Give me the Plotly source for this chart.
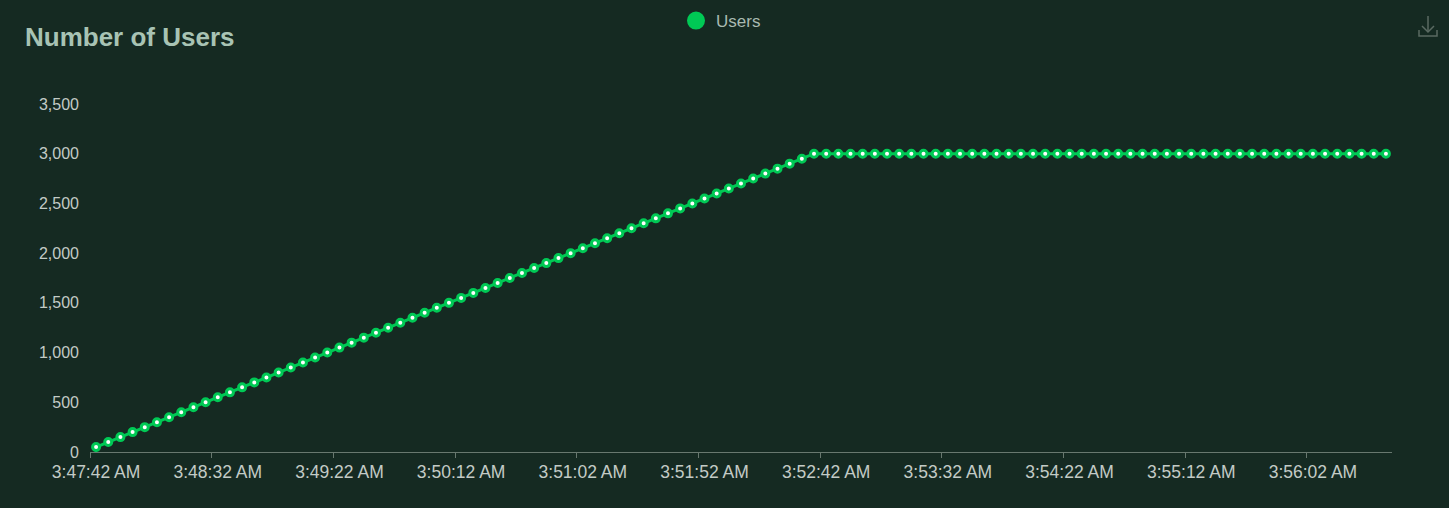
import datetime as dt
import plotly.graph_objects as go

# ---- data ----
start_time = dt.datetime(2024, 1, 1, 3, 47, 42)
step_seconds = 5
users = [
    50, 100, 150, 200, 250, 300, 350, 400, 450, 500,
    550, 600, 650, 700, 750, 800, 850, 900, 950, 1000,
    1050, 1100, 1150, 1200, 1250, 1300, 1350, 1400, 1450, 1500,
    1550, 1600, 1650, 1700, 1750, 1800, 1850, 1900, 1950, 2000,
    2050, 2100, 2150, 2200, 2250, 2300, 2350, 2400, 2450, 2500,
    2550, 2600, 2650, 2700, 2750, 2800, 2850, 2900, 2950, 3000,
    3000, 3000, 3000, 3000, 3000, 3000, 3000, 3000, 3000, 3000,
    3000, 3000, 3000, 3000, 3000, 3000, 3000, 3000, 3000, 3000,
    3000, 3000, 3000, 3000, 3000, 3000, 3000, 3000, 3000, 3000,
    3000, 3000, 3000, 3000, 3000, 3000, 3000, 3000, 3000, 3000,
    3000, 3000, 3000, 3000, 3000, 3000, 3000,
]


def fmt(t):
    h = t.hour % 12 or 12
    ampm = "AM" if t.hour < 12 else "PM"
    return f"{h}:{t.minute:02d}:{t.second:02d} {ampm}"


times = [fmt(start_time + dt.timedelta(seconds=step_seconds * i)) for i in range(len(users))]
y_ticks = [0, 500, 1000, 1500, 2000, 2500, 3000, 3500]
series_name = "Users"
title_text = "Number of Users"

# ---- style ----
BG = "#152a22"
GREEN = "#00c955"
AXIS = "#68786f"
LABEL = "#c3cbc6"
FONT = "Liberation Sans, Arial, Helvetica, sans-serif"

W, H = 1449, 508
ML, MR, MT, MB = 90, W - 1392, 104, H - 452

fig = go.Figure()
fig.add_trace(go.Scatter(
    x=times, y=users, mode="lines+markers", name=series_name, showlegend=False,
    line=dict(color=GREEN, width=3),
    marker=dict(symbol="circle", size=7, color="white", line=dict(color=GREEN, width=3)),
))
# legend entry
fig.add_trace(go.Scatter(
    x=[None], y=[None], mode="markers", name=series_name,
    marker=dict(symbol="circle", size=16, color=GREEN, line=dict(color=GREEN, width=2)),
))

pw = W - ML - MR
ph = H - MT - MB


def xp(px):
    return (px - ML) / pw


def yp(py):
    return (H - MB - py) / ph


icon = dict(color="#5a6a62", width=1.5)
shapes = [
    dict(type="line", xref="paper", yref="paper", x0=xp(1428), x1=xp(1428), y0=yp(16), y1=yp(32), line=icon),
    dict(type="path", xref="paper", yref="paper",
         path=f"M {xp(1422)} {yp(26)} L {xp(1428)} {yp(32)} L {xp(1434)} {yp(26)}", line=icon),
    dict(type="path", xref="paper", yref="paper",
         path=f"M {xp(1419)} {yp(30)} L {xp(1419)} {yp(36)} L {xp(1437)} {yp(36)} L {xp(1437)} {yp(30)}", line=icon),
]

fig.update_layout(
    width=W, height=H,
    margin=dict(l=ML, r=MR, t=MT, b=MB, autoexpand=False),
    paper_bgcolor=BG, plot_bgcolor=BG,
    font=dict(family=FONT, color=LABEL, size=16),
    title=dict(text=f"<b>{title_text}</b>", x=25 / W, xref="container", xanchor="left",
               y=1 - 37 / H, yref="container", yanchor="middle",
               font=dict(size=26, color="#a8c3b4", family=FONT)),
    showlegend=True,
    legend=dict(orientation="h", x=xp(676), xanchor="left", y=yp(3), yanchor="top",
                font=dict(size=17, color="#a9bab1"), bgcolor="rgba(0,0,0,0)",
                itemsizing="trace"),
    shapes=shapes,
    xaxis=dict(
        type="category", range=[-0.5, len(users) - 0.5],
        tickmode="linear", tick0=0, dtick=10, tickson="boundaries",
        tickangle=0, automargin=False,
        showgrid=False, zeroline=False,
        showline=True, linecolor=AXIS, linewidth=1,
        ticks="outside", ticklen=5, tickcolor=AXIS, tickwidth=1,
        ticklabelstandoff=4,
        tickfont=dict(size=17.5, color=LABEL),
    ),
    yaxis=dict(
        range=[0, 3500], tickmode="array", tickvals=y_ticks, tickformat=",",
        showgrid=False, zeroline=False, showline=False, ticks="",
        ticklabelstandoff=10, automargin=False,
        tickfont=dict(size=16, color=LABEL),
    ),
)

fig.write_html("out.html", config={"displayModeBar": False},
               post_script="document.body.style.margin='0px';")
